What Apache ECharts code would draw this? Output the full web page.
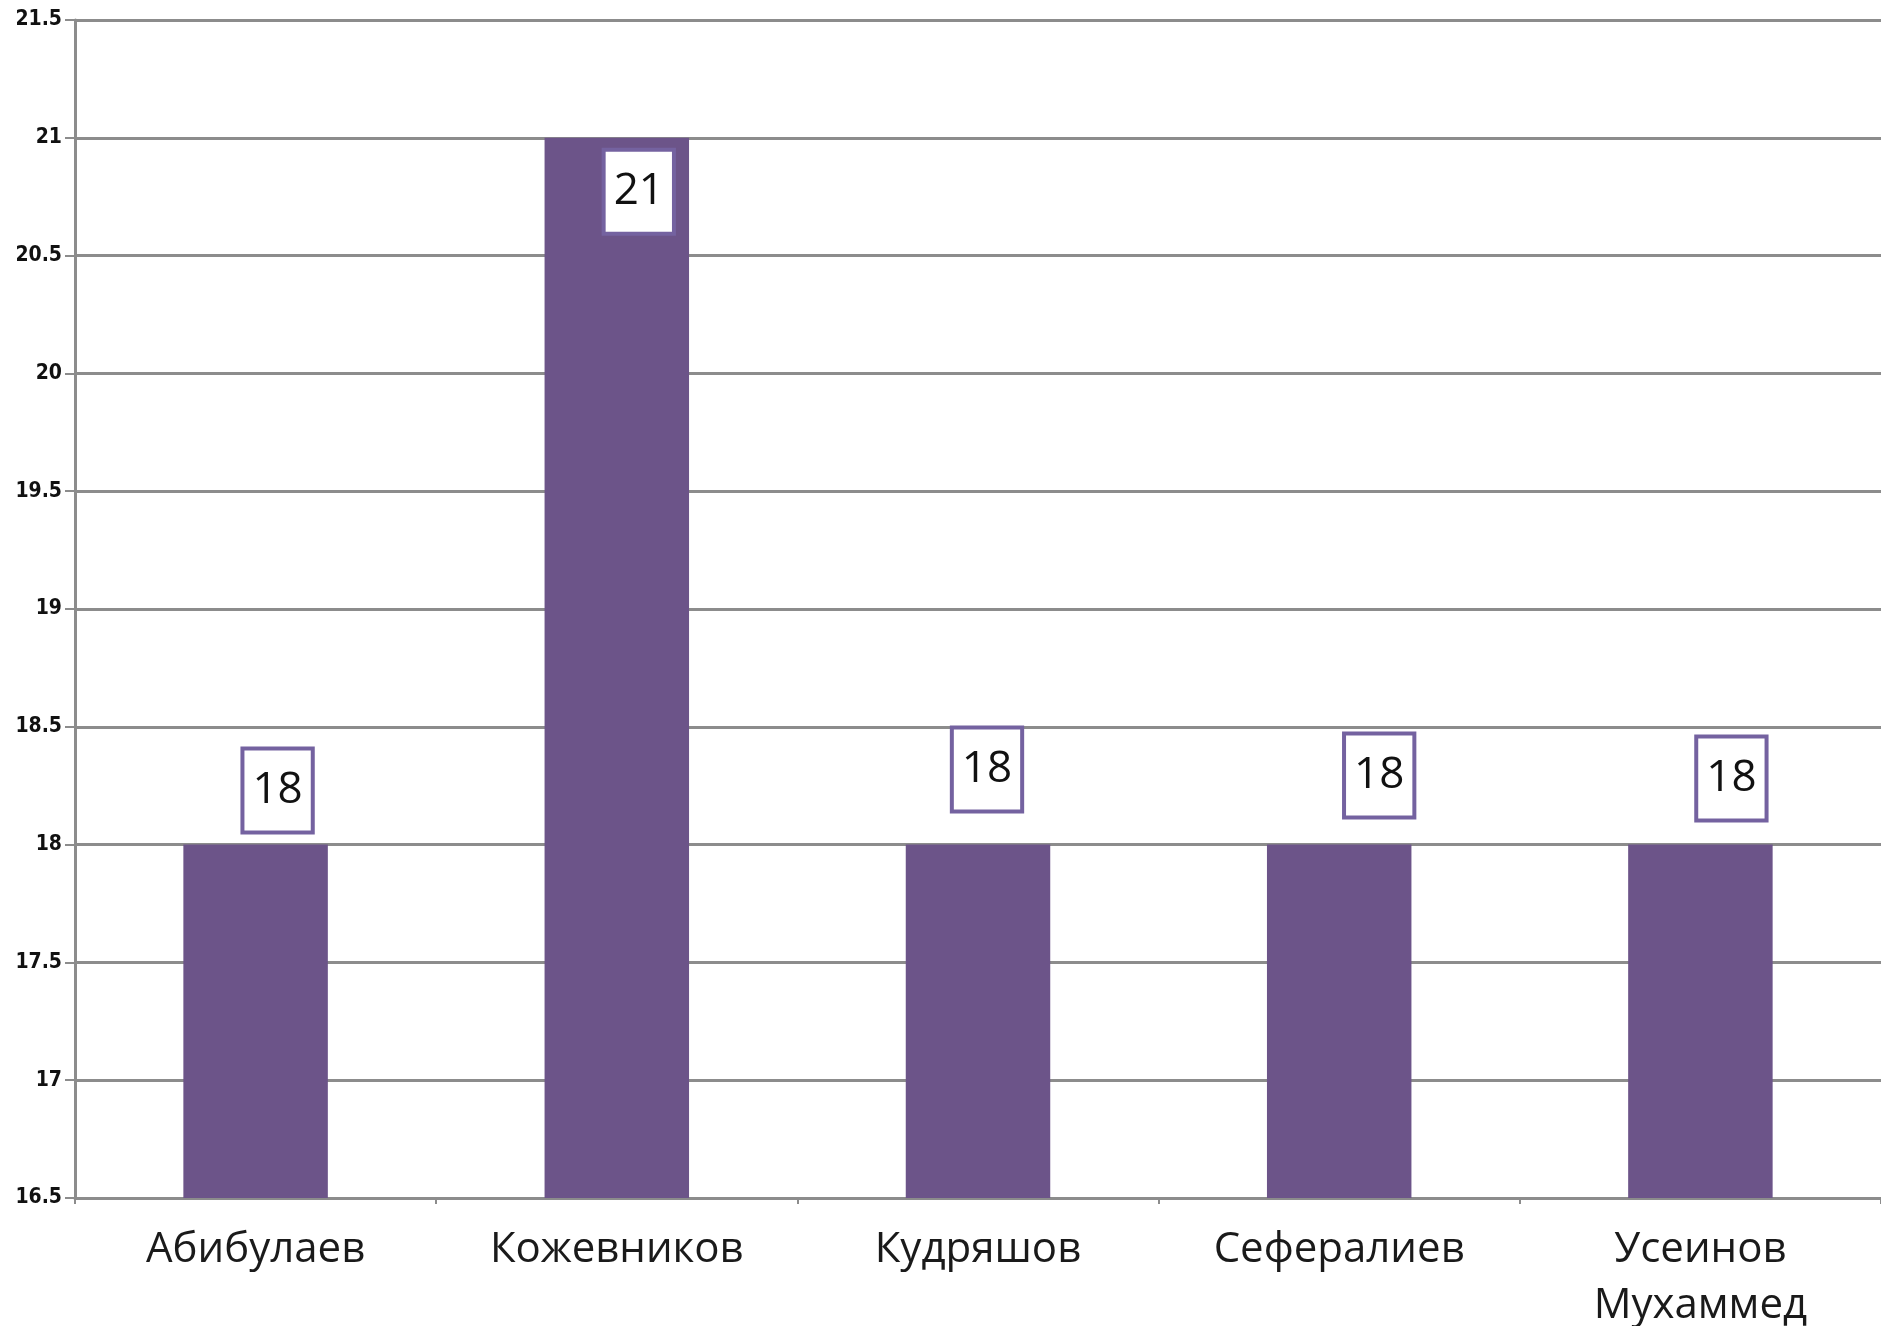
<!DOCTYPE html>
<html>
<head>
<meta charset="utf-8">
<script src="https://cdn.jsdelivr.net/npm/echarts@6/dist/echarts.min.js"></script>
<style>
  html, body { margin: 0; padding: 0; background: #fff; overflow: hidden; }
  #chart { width: 1881px; height: 1326px; }
</style>
</head>
<body>
<div id="chart"></div>
<script>
const categories = ['Абибулаев', 'Кожевников', 'Кудряшов', 'Сефералиев', 'Усеинов\nМухаммед'];
const values = [18, 21, 18, 18, 18];
const yMin = 16.5;
const yMax = 21.5;
const yStep = 0.5;

// label placement styling (not data)
const labelOffsets = [[22, 0], [22, 0], [9, -21], [40, -15], [31, -12]];
const labelPositions = ['top', 'insideTop', 'top', 'top', 'top'];

const chart = echarts.init(document.getElementById('chart'));

const seriesData = values.map((v, i) => ({
  value: v,
  label: { position: labelPositions[i], offset: labelOffsets[i] }
}));

chart.setOption({
  animation: false,
  backgroundColor: '#ffffff',
  grid: { left: 75, top: 20, right: 0, bottom: 128, containLabel: false, outerBoundsMode: 'none' },
  xAxis: {
    type: 'category',
    data: categories,
    axisLine: { show: true, lineStyle: { color: '#8c8c8c', width: 3 } },
    axisTick: { show: true, alignWithLabel: false, length: 6, lineStyle: { color: '#8c8c8c', width: 2 } },
    axisLabel: {
      color: '#1a1a1a', fontSize: 42, fontFamily: 'Open Sans', margin: 24, lineHeight: 56
    },
    splitLine: { show: false }
  },
  yAxis: {
    type: 'value',
    min: yMin, max: yMax, interval: yStep,
    axisLine: { show: true, lineStyle: { color: '#8c8c8c', width: 3 } },
    axisTick: { show: true, length: 10, lineStyle: { color: '#8c8c8c', width: 2 } },
    axisLabel: {
      color: '#111', fontSize: 21, fontFamily: 'DejaVu Sans Condensed', fontWeight: 'bold', margin: 13,
      formatter: v => String(Math.round(v * 10) / 10)
    },
    splitLine: { show: true, lineStyle: { color: '#8c8c8c', width: 3 } }
  },
  series: [{
    type: 'bar',
    data: seriesData,
    barWidth: '40%',
    itemStyle: { color: '#6c5489' },
    label: {
      show: true,
      distance: 14,
      color: '#111',
      fontSize: 44,
      fontFamily: 'Open Sans',
      lineHeight: 50,
      backgroundColor: '#ffffff',
      borderColor: '#7462a0',
      borderWidth: 4,
      padding: [15, 8, 15, 8]
    }
  }]
});
</script>
</body>
</html>
